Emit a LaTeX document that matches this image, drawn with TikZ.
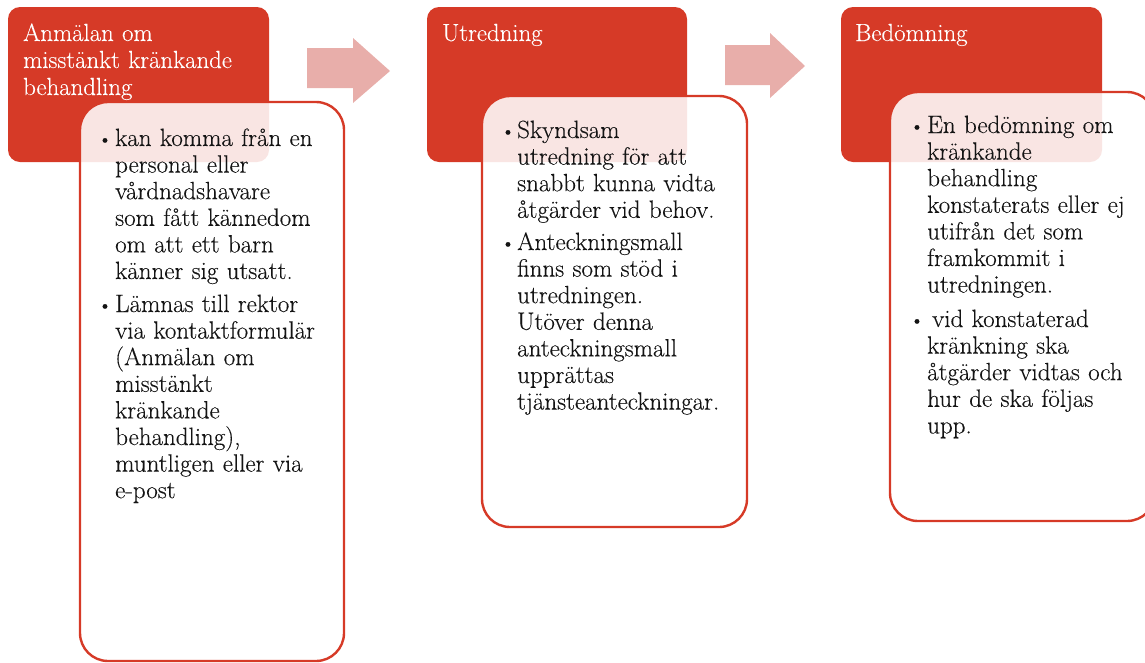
\documentclass[tikz,border=0pt]{standalone}
\usepackage{fontspec}
\setmainfont{Latin Modern Roman}[FakeBold=0.2]
\definecolor{rd}{RGB}{214,58,39}
\definecolor{arw}{RGB}{232,174,170}
\definecolor{ink}{RGB}{20,20,20}
\begin{document}
\begin{tikzpicture}[x=1pt,y=-1pt,
  hdr/.style={fill=rd, rounded corners=12pt, inner sep=0pt, outer sep=0pt, anchor=north west, minimum width=261pt, minimum height=155pt},
  cbox/.style={draw=rd, line width=2.4pt, fill=white, fill opacity=0.87, rounded corners=28pt, inner sep=0pt, outer sep=0pt, anchor=north west},
  htext/.style={anchor=base west, text width=250pt, align=left, inner sep=0pt, text=white, font=\fontsize{24.8}{27}\selectfont},
  btext/.style={anchor=base west, text width=240pt, align=left, inner sep=0pt, text=ink, font=\fontsize{25}{26.6}\selectfont},
  bul/.style={anchor=base, inner sep=0pt, text=ink, font=\fontsize{21}{22}\selectfont},
  arrowshape/.style={fill=arw}]
\useasboundingbox (0,0) rectangle (1145,662);
\clip (0,0) rectangle (1145,662);

% headers
\node[hdr] (h1) at (8,7) {};
\node[hdr, minimum width=260pt] (h2) at (427,7) {};
\node[hdr] (h3) at (841,7) {};

% arrows
\fill[arrowshape] (307,48) -- (353,48) -- (353,38) -- (390,71) -- (353,103) -- (353,88) -- (307,88) -- cycle;
\fill[arrowshape] (725,45) -- (770,45) -- (770,33) -- (805,66) -- (770,98) -- (770,85) -- (725,85) -- cycle;

% content boxes
\node[cbox, minimum width=264pt, minimum height=559pt] (c1) at (80,102) {};
\node[cbox, minimum width=265pt, minimum height=431pt] (c2) at (482,96) {};
\node[cbox, minimum width=265pt, minimum height=429pt] (c3) at (890,92) {};

% header texts
\node[htext] (ht1) at (23,41) {Anmälan om\\misstänkt kränkande\\behandling};
\node[htext] (ht2) at (442,41) {Utredning};
\node[htext] (ht3) at (855,41) {Bedömning};

% box 1
\node[bul] (b11) at (105,146) {\textbullet};
\node[btext] (t11) at (115,146) {kan komma från en\\personal eller\\vårdnadshavare\\som fått kännedom\\om att ett barn\\känner sig utsatt.};
\node[bul] (b12) at (105,312) {\textbullet};
\node[btext] (t12) at (115,312) {Lämnas till rektor\\via kontaktformulär\\(Anmälan om\\misstänkt\\kränkande\\behandling),\\muntligen eller via\\e-post};

% box 2
\node[bul] (b21) at (508,138) {\textbullet};
\node[btext] (t21) at (517,138) {Skyndsam\\utredning för att\\snabbt kunna vidta\\åtgärder vid behov.};
\node[bul] (b22) at (508,250) {\textbullet};
\node[btext] (t22) at (517,250) {Anteckningsmall\\finns som stöd i\\utredningen.\\Utöver denna\\anteckningsmall\\upprättas\\tjänsteanteckningar.};

% box 3
\node[bul] (b31) at (917,133) {\textbullet};
\node[btext] (t31) at (927,133) {En bedömning om\\kränkande\\behandling\\konstaterats eller ej\\utifrån det som\\framkommit i\\utredningen.};
\node[bul] (b32) at (917,327) {\textbullet};
\node[btext] (t32) at (927,327) {\hspace*{5pt}vid konstaterad\\kränkning ska\\åtgärder vidtas och\\hur de ska följas\\upp.};
\end{tikzpicture}
\end{document}
